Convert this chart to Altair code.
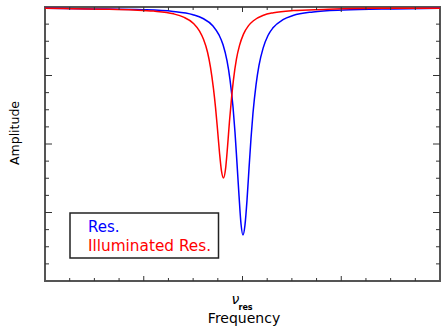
import altair as alt
import pandas as pd

# ---- data (frequency relative to nu_res, amplitude 0..1)
series_names = ["Res.", "Illuminated Res."]
series_colors = ["#0000FF", "#FF0000"]

res_x = [-2.000, -1.514, -1.008, -0.704, -0.501, -0.400, -0.299, -0.238, -0.197, -0.157,
         -0.127, -0.096, -0.076, -0.056, -0.035, -0.015, 0.005,
         0.025, 0.046, 0.066, 0.086, 0.106, 0.137, 0.167, 0.208, 0.258, 0.309,
         0.410, 0.511, 0.714, 1.018, 1.524, 2.000]
res_y = [0.995, 0.993, 0.990, 0.984, 0.972, 0.958, 0.931, 0.898, 0.862, 0.804,
         0.736, 0.635, 0.543, 0.431, 0.310, 0.208, 0.168,
         0.204, 0.297, 0.411, 0.520, 0.612, 0.716, 0.787, 0.849, 0.896, 0.924,
         0.954, 0.969, 0.982, 0.989, 0.993, 0.995]

ill_x = [-2.000, -1.716, -1.408, -1.104, -0.901, -0.699, -0.597, -0.496, -0.435, -0.395,
         -0.354, -0.324, -0.294, -0.273, -0.253, -0.233, -0.213, -0.192,
         -0.172, -0.152, -0.132, -0.111, -0.091, -0.061, -0.030, 0.010, 0.061, 0.111,
         0.213, 0.314, 0.516, 0.820, 1.327, 2.000]
ill_y = [0.995, 0.994, 0.992, 0.989, 0.985, 0.975, 0.963, 0.940, 0.912, 0.882,
         0.835, 0.780, 0.702, 0.633, 0.553, 0.469, 0.402, 0.376,
         0.408, 0.488, 0.582, 0.668, 0.736, 0.811, 0.860, 0.901, 0.932, 0.950,
         0.970, 0.979, 0.987, 0.991, 0.995, 0.995]

x_major = [-1, 0, 1]
x_minor = [-1.75, -1.5, -1.25, -0.75, -0.5, -0.25, 0.25, 0.5, 0.75, 1.25, 1.5, 1.75]
y_major = [0.25, 0.5, 0.75]
y_minor = [0.0625, 0.125, 0.1875, 0.3125, 0.375, 0.4375,
           0.5625, 0.625, 0.6875, 0.8125, 0.875, 0.9375]

x_label_value = 0
x_title = "Frequency"
y_title = "Amplitude"

# ---- layout
W, H = 395, 274
FONT = "DejaVu Sans"
TICK = "#333333"

xs = alt.Scale(domain=[-2, 2], nice=False, zero=False)
ys = alt.Scale(domain=[0, 1], nice=False, zero=False)

lines_df = pd.concat([
    pd.DataFrame({"f": res_x, "a": res_y, "s": series_names[0]}),
    pd.DataFrame({"f": ill_x, "a": ill_y, "s": series_names[1]}),
])

lines = alt.Chart(lines_df).mark_line(strokeWidth=1.5, interpolate="monotone").encode(
    x=alt.X("f:Q", scale=xs, axis=None),
    y=alt.Y("a:Q", scale=ys, axis=None),
    color=alt.Color("s:N", scale=alt.Scale(domain=series_names, range=series_colors), legend=None),
    detail="s:N",
)

def xticks(vals, length):
    df = pd.DataFrame({"t": vals})
    bot = alt.Chart(df).mark_rule(color=TICK, strokeWidth=1).encode(
        x=alt.X("t:Q", scale=xs, axis=None), y=alt.value(H), y2=alt.value(H - length))
    top = alt.Chart(df).mark_rule(color=TICK, strokeWidth=1).encode(
        x=alt.X("t:Q", scale=xs, axis=None), y=alt.value(0), y2=alt.value(length))
    return [bot, top]

def yticks(vals, length):
    df = pd.DataFrame({"t": vals})
    left = alt.Chart(df).mark_rule(color=TICK, strokeWidth=1).encode(
        y=alt.Y("t:Q", scale=ys, axis=None), x=alt.value(0), x2=alt.value(length))
    right = alt.Chart(df).mark_rule(color=TICK, strokeWidth=1).encode(
        y=alt.Y("t:Q", scale=ys, axis=None), x=alt.value(W), x2=alt.value(W - length))
    return [left, right]

ticks = xticks(x_major, 5) + xticks(x_minor, 3) + yticks(y_major, 7) + yticks(y_minor, 4)

nu = alt.Chart(pd.DataFrame({"t": [x_label_value], "l": ["ν"]})).mark_text(
    font=FONT, fontSize=14, fontStyle="italic", align="center", baseline="alphabetic", color="black", dx=-7
).encode(x=alt.X("t:Q", scale=xs, axis=None), y=alt.value(296.5), text="l:N")

sub = alt.Chart(pd.DataFrame({"t": [x_label_value], "l": ["res"]})).mark_text(
    font=FONT, fontSize=8, fontWeight="bold", align="left", baseline="alphabetic", color="black", dx=-4
).encode(x=alt.X("t:Q", scale=xs, axis=None), y=alt.value(302.5), text="l:N")

xt = alt.Chart(pd.DataFrame({"l": [x_title]})).mark_text(
    font=FONT, fontSize=14, align="center", baseline="alphabetic", color="black"
).encode(x=alt.value(199), y=alt.value(316), text="l:N")

yt = alt.Chart(pd.DataFrame({"l": [y_title]})).mark_text(
    font=FONT, fontSize=12.5, align="center", baseline="middle", angle=270, color="black"
).encode(x=alt.value(-30), y=alt.value(126), text="l:N")

box = alt.Chart(pd.DataFrame({"k": [1]})).mark_rect(
    fill="white", stroke="#222222", strokeWidth=1.5
).encode(x=alt.value(25), x2=alt.value(173.5), y=alt.value(206), y2=alt.value(251))

leg1 = alt.Chart(pd.DataFrame({"l": [series_names[0]]})).mark_text(
    font=FONT, fontSize=15, align="left", baseline="alphabetic", color=series_colors[0]
).encode(x=alt.value(43), y=alt.value(225), text="l:N")

leg2 = alt.Chart(pd.DataFrame({"l": [series_names[1]]})).mark_text(
    font=FONT, fontSize=15.3, align="left", baseline="alphabetic", color=series_colors[1]
).encode(x=alt.value(43), y=alt.value(243.5), text="l:N")

chart = alt.layer(lines, *ticks, box, leg1, leg2, nu, sub, xt, yt).properties(
    width=W, height=H,
    padding={"left": 45, "top": 7, "right": 1, "bottom": 48},
    autosize=alt.AutoSizeParams(type="none"),
    background="white",
).configure_view(stroke="#555555", strokeWidth=2)

chart.save("out.html", embed_options={"renderer": "svg", "actions": False})
